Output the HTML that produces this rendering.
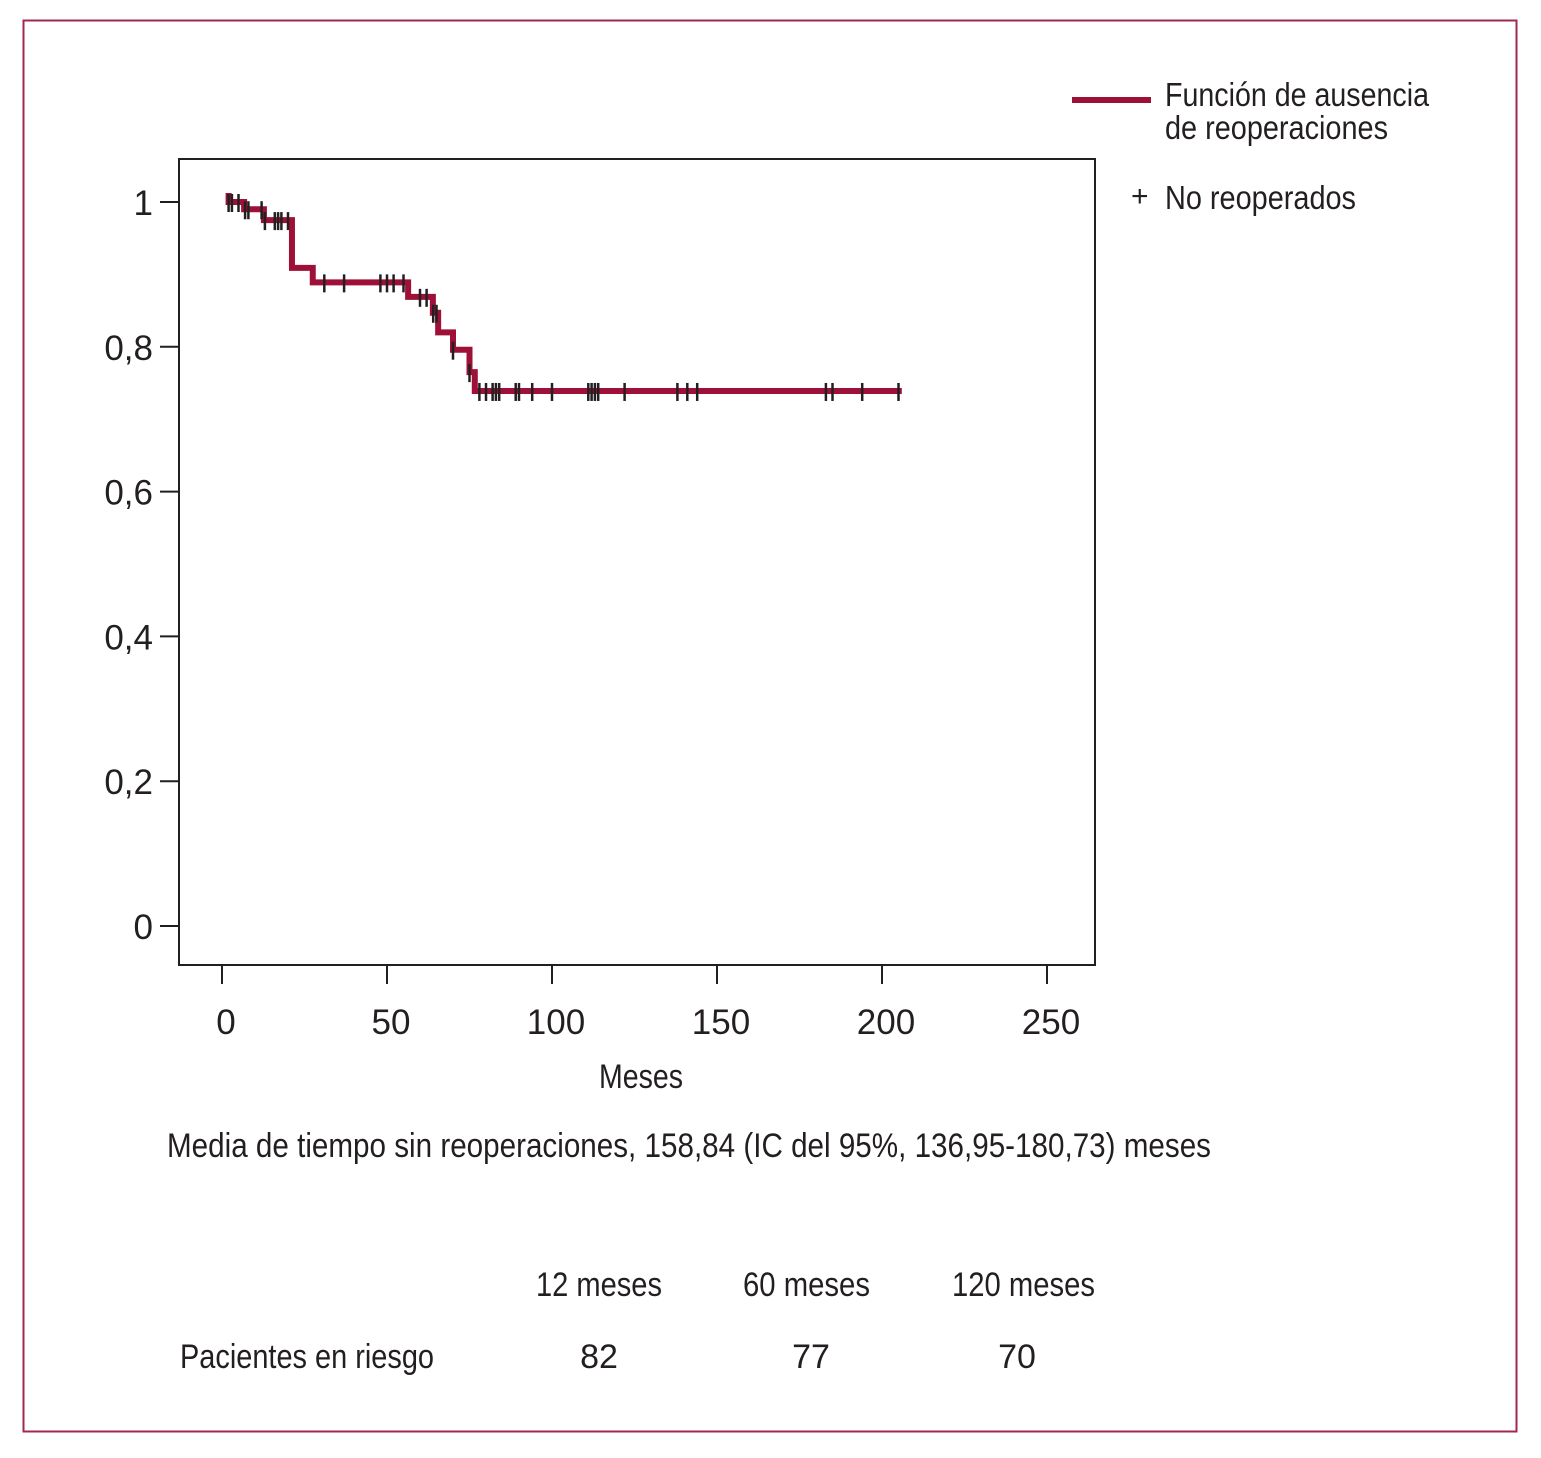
<!DOCTYPE html>
<html><head><meta charset="utf-8"><style>
html,body{margin:0;padding:0;background:#fff;}
svg{display:block;}
text{font-family:"Liberation Sans Narrow","Liberation Sans",sans-serif;fill:#231f20;}
</style></head><body>
<svg id="chart" width="1541" height="1458" viewBox="0 0 1541 1458" xmlns="http://www.w3.org/2000/svg">
<rect x="23.5" y="20.5" width="1493" height="1411" fill="none" stroke="#a3284f" stroke-width="2"/>
<rect x="179" y="159" width="916" height="806" fill="none" stroke="#231f20" stroke-width="2"/>
<g id="axes"></g>
<g id="series"></g>
<g>
<line x1="1072" y1="100" x2="1151" y2="100" stroke="#9e1038" stroke-width="6"/>
<text x="1165" y="106" font-size="33" textLength="264" lengthAdjust="spacingAndGlyphs">Función de ausencia</text>
<text x="1165" y="139" font-size="33" textLength="223" lengthAdjust="spacingAndGlyphs">de reoperaciones</text>
<text x="1131" y="206" font-size="30">+</text>
<text x="1165" y="209" font-size="33" textLength="191" lengthAdjust="spacingAndGlyphs">No reoperados</text>
</g>
<text x="641" y="1088" font-size="34" text-anchor="middle" textLength="84" lengthAdjust="spacingAndGlyphs">Meses</text>
<text x="167" y="1157" font-size="34" textLength="1044" lengthAdjust="spacingAndGlyphs">Media de tiempo sin reoperaciones, 158,84 (IC del 95%, 136,95-180,73) meses</text>
<g>
<text x="536" y="1296" font-size="34" textLength="126" lengthAdjust="spacingAndGlyphs">12 meses</text>
<text x="743" y="1296" font-size="34" textLength="127" lengthAdjust="spacingAndGlyphs">60 meses</text>
<text x="952" y="1296" font-size="34" textLength="143" lengthAdjust="spacingAndGlyphs">120 meses</text>
<text x="180" y="1368" font-size="34" textLength="254" lengthAdjust="spacingAndGlyphs">Pacientes en riesgo</text>
<text x="599" y="1368" font-size="34" text-anchor="middle">82</text>
<text x="811" y="1368" font-size="34" text-anchor="middle">77</text>
<text x="1017" y="1368" font-size="34" text-anchor="middle">70</text>
</g>
</svg>
<script>
const xTicks = [0, 50, 100, 150, 200, 250];
const yTicks = [0, 0.2, 0.4, 0.6, 0.8, 1];
const yTickLabels = ["0", "0,2", "0,4", "0,6", "0,8", "1"];
const stepTimes = [0, 6.7, 12.7, 21.2, 27.5, 56.4, 63.9, 65.5, 70, 75, 76.6];
const stepValues = [1, 0.99, 0.975, 0.909, 0.889, 0.869, 0.847, 0.82, 0.796, 0.765, 0.739];
const endTime = 206;
const censorTimes = [2, 3, 5, 7, 8, 12, 13, 16, 17, 18, 20, 31, 37, 48, 50, 52, 55, 60, 62, 64, 65, 70, 75, 78, 80, 82, 83, 84, 89, 90, 94, 100, 111, 112, 113, 114, 122, 138, 141, 144, 183, 185, 194, 205];

const NS = "http://www.w3.org/2000/svg";
const xs = m => 222 + m * 3.3;
const ys = v => 926 - v * 724;
function mk(tag, attrs, parent) {
  const el = document.createElementNS(NS, tag);
  for (const k in attrs) el.setAttribute(k, attrs[k]);
  parent.appendChild(el);
  return el;
}
const axes = document.getElementById("axes");
xTicks.forEach((t) => {
  const l = mk("line", {x1: xs(t), x2: xs(t), y1: 965, y2: 984, stroke: "#231f20", "stroke-width": 2}, axes);
  
  
  const tx = mk("text", {x: xs(t) + 4, y: 1034, "font-size": 35, "text-anchor": "middle"}, axes);
  tx.textContent = t;
  
  
});
yTicks.forEach((t, i) => {
  const l = mk("line", {x1: 160, x2: 179, y1: ys(t), y2: ys(t), stroke: "#231f20", "stroke-width": 2}, axes);
  
  
  const tx = mk("text", {x: 153, y: ys(t) + 13, "font-size": 35, "text-anchor": "end"}, axes);
  tx.textContent = yTickLabels[i];
  
  
});
const series = document.getElementById("series");
function valAt(t) {
  let v = stepValues[0];
  for (let i = 0; i < stepTimes.length; i++) if (stepTimes[i] <= t) v = stepValues[i];
  return v;
}
let d = "M" + xs(2) + " " + (ys(1) - 9) + " L" + xs(2) + " " + ys(stepValues[0]);
for (let i = 1; i < stepTimes.length; i++) {
  d += " L" + xs(stepTimes[i]) + " " + ys(stepValues[i - 1]) + " L" + xs(stepTimes[i]) + " " + ys(stepValues[i]);
}
d += " L" + xs(endTime) + " " + ys(stepValues[stepValues.length - 1]);
const path = mk("path", {d: d, fill: "none", stroke: "#9e1038", "stroke-width": 6, "stroke-linejoin": "miter"}, series);


censorTimes.forEach(t => {
  const y = ys(valAt(t));
  const c = mk("line", {x1: xs(t), x2: xs(t), y1: y - 8, y2: y + 10, stroke: "#231f20", "stroke-width": 2.5}, series);
  
  
});
</script>
</body></html>
